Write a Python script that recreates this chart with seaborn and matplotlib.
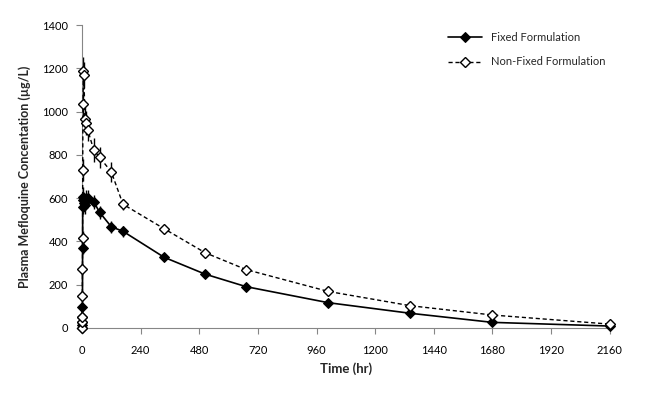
import numpy as np
import pandas as pd
import matplotlib
matplotlib.use('Agg')
import matplotlib.pyplot as plt
import seaborn as sns

# Sampling times (hr)
times = [0, 0.5, 1, 1.5, 2, 2.5, 3, 4, 6, 8, 12, 18, 24, 48, 72, 120, 168,
         336, 504, 672, 1008, 1344, 1680, 2160]

# Mean plasma mefloquine (ug/L)
fixed = [0, 15, 30, 50, 98, 368, 560, 591, 607, 580, 569, 600, 602, 584, 535,
         468, 447, 327, 249, 191, 117, 68, 26, 9]
fixed_err = [0, 3, 5, 8, 12, 25, 35, 40, 45, 40, 40, 40, 38, 32, 30,
             28, 25, 15, 10, 8, 8, 6, 4, 3]

non_fixed = [0, 30, 52, 148, 271, 414, 730, 1034, 1187, 1169, 966, 946, 915,
             823, 789, 722, 572, 459, 348, 270, 169, 103, 60, 18]
non_fixed_err = [0, 5, 8, 15, 25, 35, 50, 60, 67, 60, 55, 55, 50,
                 55, 50, 45, 25, 18, 12, 10, 8, 7, 5, 3]

df = pd.DataFrame({'time': times * 2,
                   'conc': fixed + non_fixed,
                   'group': ['Fixed Formulation'] * len(times)
                   + ['Non-Fixed Formulation'] * len(times)})

sns.set_style('white')
plt.rcParams['font.family'] = ['Lato', 'DejaVu Sans']

fig = plt.figure(figsize=(6.48, 3.93), dpi=100)
ax = fig.add_axes([0.1265, 0.1654, 0.8145, 0.7706])

# error bars first so the markers sit on top
ax.errorbar(times, fixed, yerr=fixed_err, fmt='none', ecolor='black',
            elinewidth=1, capsize=0, zorder=2, clip_on=False)
ax.errorbar(times, non_fixed, yerr=non_fixed_err, fmt='none', ecolor='black',
            elinewidth=1, capsize=0, zorder=2, clip_on=False)

sub = df[df['group'] == 'Fixed Formulation']
sns.lineplot(x='time', y='conc', data=sub, ax=ax, color='black', lw=1.2,
             marker='D', markersize=5.5, markerfacecolor='black',
             markeredgecolor='black', label='Fixed Formulation',
             clip_on=False, zorder=3)
sub = df[df['group'] == 'Non-Fixed Formulation']
sns.lineplot(x='time', y='conc', data=sub, ax=ax, color='black', lw=1.0,
             linestyle=(0, (3, 2)), marker='D', markersize=5.5,
             markerfacecolor='white', markeredgecolor='black',
             markeredgewidth=1.0, label='Non-Fixed Formulation',
             clip_on=False, zorder=4)

ax.set_xlim(0, 2160)
ax.set_ylim(0, 1400)
ax.set_xticks(np.arange(0, 2161, 240))
ax.set_yticks(np.arange(0, 1401, 200))
ax.tick_params(axis='both', labelsize=8, colors='#868686',
               labelcolor='black', direction='out', length=4, width=0.8)
ax.tick_params(axis='x', bottom=True, pad=8)
ax.tick_params(axis='y', left=True, pad=6)

for s in ['top', 'right']:
    ax.spines[s].set_visible(False)
for s in ['left', 'bottom']:
    ax.spines[s].set_color('#868686')
    ax.spines[s].set_linewidth(0.8)

ax.set_xlabel('Time (hr)', fontsize=9.5, fontweight='bold', labelpad=5)
ax.set_ylabel('Plasma Mefloquine Concentation (µg/L)', fontsize=9,
              fontweight='bold', labelpad=8)

leg = ax.legend(loc='upper right', bbox_to_anchor=(1.01, 1.01), frameon=False,
                fontsize=8, handlelength=3, labelspacing=1.2)

fig.savefig('out.png', dpi=100)
